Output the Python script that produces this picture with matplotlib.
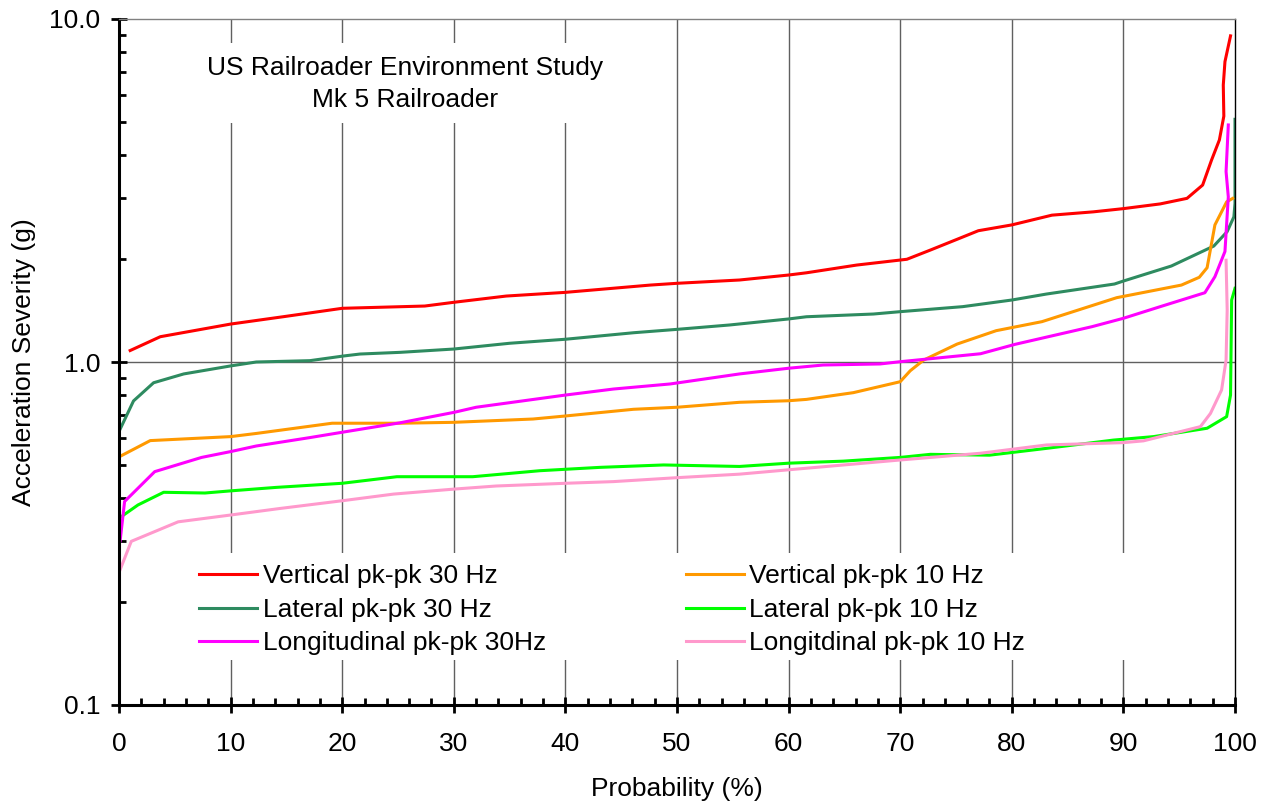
import matplotlib
matplotlib.use("Agg")
import matplotlib.pyplot as plt
from matplotlib.patches import Rectangle
from matplotlib.ticker import FixedLocator, NullFormatter

plt.rcParams["font.family"] = ["Liberation Sans", "DejaVu Sans"]

# ── data ────────────────────────────────────────────────────────────────────
v30_x = [1.0, 3.7, 10.0, 14.7, 20.0, 27.4, 30.0, 34.7, 40.0, 47.6, 50.0, 55.6, 60.0, 61.6,
         66.1, 70.6, 72.7, 75.1, 77.0, 80.0, 83.6, 87.3, 90.0, 93.3, 95.7, 97.1, 97.9, 98.6,
         99.0, 98.95, 99.1, 99.6]
v30_y = [1.08, 1.185, 1.29, 1.355, 1.434, 1.456, 1.493, 1.557, 1.596, 1.676, 1.696, 1.734,
         1.793, 1.82, 1.917, 1.993, 2.12, 2.279, 2.414, 2.51, 2.68, 2.74, 2.80, 2.89, 3.0,
         3.28, 3.88, 4.44, 5.21, 6.42, 7.51, 8.93]

l30_x = [0.1, 1.3, 3.1, 5.8, 10.0, 12.3, 17.1, 20.1, 21.6, 25.2, 30.0, 35.0, 40.0, 46.1,
         50.0, 54.7, 60.0, 61.6, 67.6, 70.0, 75.6, 80.0, 83.1, 89.2, 90.0, 94.3, 98.1, 99.3,
         99.9, 100.0, 100.0]
l30_y = [0.637, 0.77, 0.87, 0.923, 0.974, 1.0, 1.009, 1.041, 1.055, 1.067, 1.091, 1.134,
         1.165, 1.217, 1.245, 1.282, 1.335, 1.355, 1.38, 1.402, 1.45, 1.516, 1.578, 1.688,
         1.722, 1.905, 2.178, 2.4, 2.65, 2.9, 5.1]

v10_x = [0.2, 2.8, 10.0, 12.3, 19.1, 25.2, 30.0, 37.1, 40.0, 46.1, 50.0, 55.6, 60.0, 61.6,
         65.8, 70.0, 70.9, 72.1, 75.1, 78.6, 82.7, 89.4, 95.2, 96.8, 97.5, 98.2, 99.25, 99.8]
v10_y = [0.533, 0.59, 0.606, 0.619, 0.663, 0.663, 0.667, 0.682, 0.696, 0.728, 0.738, 0.763,
         0.771, 0.778, 0.814, 0.876, 0.943, 1.013, 1.128, 1.234, 1.311, 1.54, 1.676, 1.766,
         1.883, 2.51, 2.93, 3.0]

lo30_x = [0.1, 0.5, 3.2, 7.4, 10.0, 12.3, 17.1, 20.0, 25.2, 30.0, 32.0, 40.0, 44.3, 49.4,
          55.6, 60.0, 63.1, 68.2, 70.0, 77.2, 80.3, 87.2, 90.0, 93.3, 97.3, 98.2, 99.1,
          99.4, 99.2, 99.4]
lo30_y = [0.301, 0.392, 0.479, 0.527, 0.548, 0.569, 0.602, 0.624, 0.665, 0.713, 0.738,
          0.801, 0.834, 0.863, 0.923, 0.959, 0.98, 0.987, 1.002, 1.057, 1.126, 1.268, 1.341,
          1.45, 1.592, 1.773, 2.1, 3.03, 3.59, 4.91]

l10_x = [0.2, 1.7, 4.0, 7.7, 10.0, 14.1, 20.0, 24.9, 31.7, 37.7, 43.1, 48.8, 55.6, 60.0,
         64.9, 70.0, 72.7, 78.0, 83.1, 89.1, 92.7, 97.5, 99.25, 99.6, 99.7, 100.0]
l10_y = [0.354, 0.383, 0.417, 0.415, 0.421, 0.431, 0.443, 0.463, 0.463, 0.482, 0.493, 0.501,
         0.496, 0.507, 0.514, 0.527, 0.538, 0.535, 0.56, 0.592, 0.606, 0.641, 0.693, 0.801,
         1.516, 1.64]

lo10_x = [0.1, 1.1, 5.3, 10.0, 14.4, 20.0, 24.6, 30.0, 33.8, 40.0, 44.3, 50.0, 55.6, 60.0,
          70.0, 77.2, 83.1, 90.0, 91.8, 96.9, 97.8, 98.8, 99.2, 99.3, 99.2]
lo10_y = [0.248, 0.3, 0.342, 0.358, 0.374, 0.394, 0.412, 0.426, 0.435, 0.443, 0.448, 0.46,
          0.471, 0.485, 0.518, 0.542, 0.573, 0.582, 0.589, 0.648, 0.708, 0.829, 1.013, 1.418,
          1.98]

x_ticks = list(range(0, 101, 10))
y_ticks = [0.1, 1.0, 10.0]
y_tick_labels = ["0.1", "1.0", "10.0"]

FS = 19

fig = plt.figure(figsize=(12.69, 8.09), dpi=100)
ax = fig.add_axes([119 / 1269, 1 - 705 / 809, 1116 / 1269, 686 / 809])
ax.set_yscale("log")
ax.set_xlim(0, 100)
ax.set_ylim(0.1, 10)

# grid (vertical at every 10 %, horizontal at 1.0)
for gx in range(10, 100, 10):
    ax.axvline(gx, color="#606060", lw=1, zorder=0.5)
ax.axhline(1.0, color="#606060", lw=1, zorder=0.5)

# white boxes behind the title and the legend (they hide the grid)
ax.add_patch(Rectangle(((195 - 119) / 1116, (705 - 123) / 686), 420 / 1116, 80 / 686,
                       transform=ax.transAxes, facecolor="white", edgecolor="none", zorder=1))
ax.add_patch(Rectangle(((185 - 119) / 1116, (705 - 660) / 686), 945 / 1116, 107 / 686,
                       transform=ax.transAxes, facecolor="white", edgecolor="none", zorder=1))

lw = 2.2
h_v30, = ax.plot(v30_x, v30_y, color="#FF0000", lw=lw, zorder=3, label="Vertical pk-pk 30 Hz")
h_l30, = ax.plot(l30_x, l30_y, color="#2E8B60", lw=lw, zorder=3, label="Lateral pk-pk 30 Hz")
h_v10, = ax.plot(v10_x, v10_y, color="#FF9900", lw=lw, zorder=3, label="Vertical pk-pk 10 Hz")
h_l10, = ax.plot(l10_x, l10_y, color="#00FF00", lw=lw, zorder=3, label="Lateral pk-pk 10 Hz")
h_lo10, = ax.plot(lo10_x, lo10_y, color="#FF99CC", lw=lw, zorder=3, label="Longitdinal pk-pk 10 Hz")
h_lo30, = ax.plot(lo30_x, lo30_y, color="#FF00FF", lw=lw, zorder=3, label="Longitudinal pk-pk 30Hz")

ax.legend(handles=[h_v30, h_l30, h_lo30, h_v10, h_l10, h_lo10], ncol=2, frameon=False,
          fontsize=FS, loc="upper left", bbox_to_anchor=((194 - 119) / 1116, (705 - 559) / 686),
          borderaxespad=0, borderpad=0.2, handlelength=2.2, handletextpad=0.2,
          columnspacing=5.3, labelspacing=0.36)

ax.text((405 - 119) / 1116, (705 - 68) / 686, "US Railroader Environment Study",
        transform=ax.transAxes, ha="center", va="center", fontsize=FS, zorder=4)
ax.text((405 - 119) / 1116, (705 - 100) / 686, "Mk 5 Railroader",
        transform=ax.transAxes, ha="center", va="center", fontsize=FS, zorder=4)

# axes styling
ax.spines["left"].set_linewidth(2.2)
ax.spines["bottom"].set_linewidth(2.2)
ax.spines["right"].set_linewidth(1)
ax.spines["top"].set_linewidth(1)
ax.spines["top"].set_color("#808080")
for s in ax.spines.values():
    s.set_zorder(5)

ax.set_xticks(x_ticks)
ax.xaxis.set_minor_locator(FixedLocator([v for v in range(0, 101, 2) if v % 10]))
ax.yaxis.set_major_locator(FixedLocator(y_ticks))
ax.set_yticklabels(y_tick_labels)
ax.yaxis.set_minor_locator(FixedLocator([m * d for d in (0.1, 1.0) for m in range(2, 10)]))
ax.yaxis.set_minor_formatter(NullFormatter())

ax.tick_params(axis="both", which="major", direction="inout", length=11, width=2,
               labelsize=FS, color="black")
ax.tick_params(axis="both", which="minor", direction="in", length=5, width=2)
ax.tick_params(axis="x", which="major", pad=14)
ax.tick_params(axis="y", which="major", pad=8)
ax.tick_params(top=False, right=False, which="both")

ax.set_xlabel("Probability (%)", fontsize=FS)
ax.set_ylabel("Acceleration Severity (g)", fontsize=FS)
ax.xaxis.set_label_coords(0.5, (705 - 777) / 686)
ax.yaxis.set_label_coords((36 - 119) / 1116, 0.5)

fig.savefig("out.png", dpi=100, facecolor="white")
